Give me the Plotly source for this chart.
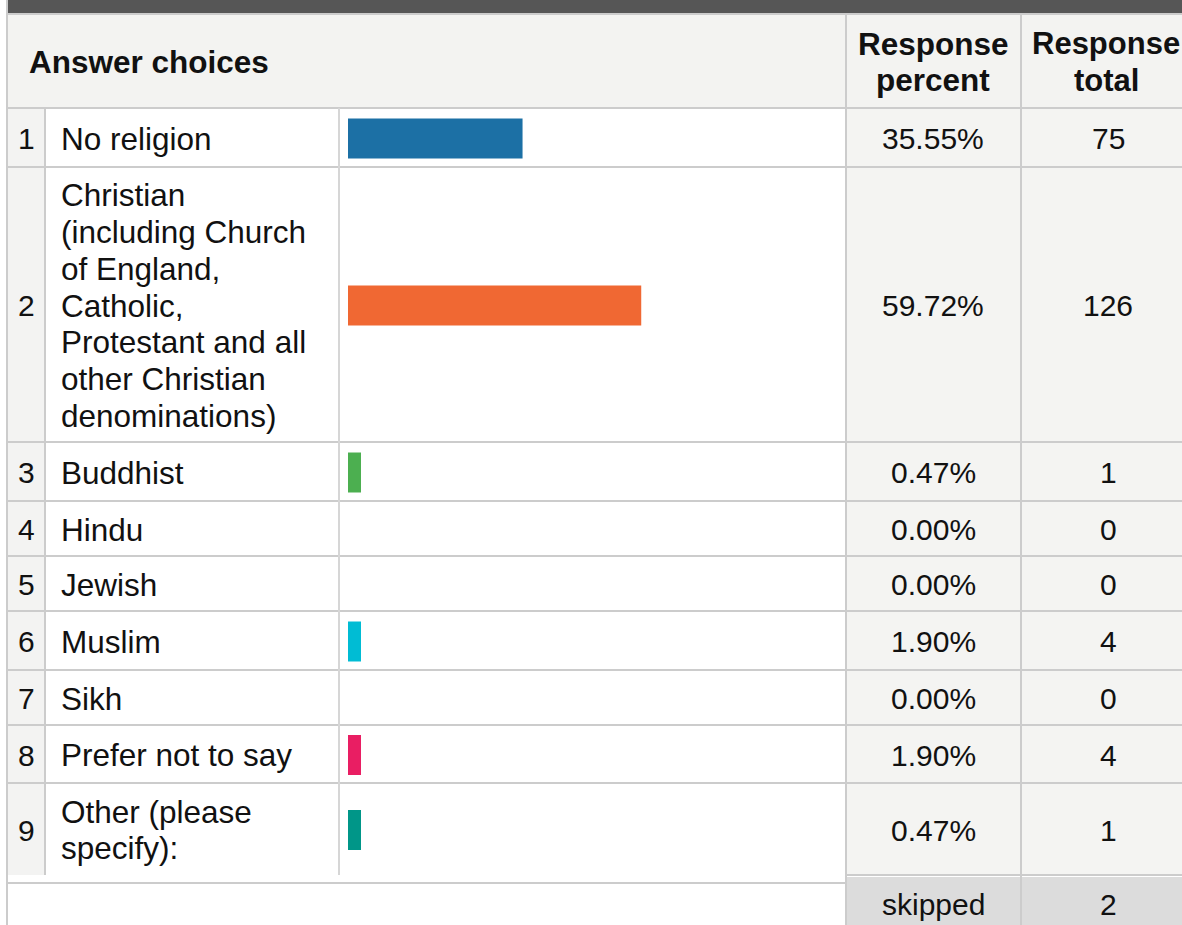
import plotly.graph_objects as go

# ---------------- data ----------------
row_numbers = [1, 2, 3, 4, 5, 6, 7, 8, 9]
answer_labels = [
    "No religion",
    "Christian<br>(including Church<br>of England,<br>Catholic,<br>Protestant and all<br>other Christian<br>denominations)",
    "Buddhist",
    "Hindu",
    "Jewish",
    "Muslim",
    "Sikh",
    "Prefer not to say",
    "Other (please<br>specify):",
]
response_percent = [35.55, 59.72, 0.47, 0.00, 0.00, 1.90, 0.00, 1.90, 0.47]
response_total = [75, 126, 1, 0, 0, 4, 0, 4, 1]
skipped_total = 2
header_labels = ["Answer choices", "Response<br>percent", "Response<br>total"]
bar_colors = ["#1c70a5", "#f06833", "#4caf50", "#ff9800", "#9c27b0",
              "#00bcd4", "#795548", "#e91e63", "#009688"]

# ---------------- layout constants (pixels) ----------------
W, H = 1182, 925
FONT = "Liberation Sans, Arial, sans-serif"
row_edges = [108, 167, 442, 501, 556, 611, 670, 725, 783, 875]
GRID = "#cccccc"
HEADER_BG = "#f3f3f1"
NUM_BG = "#f3f3f2"
VAL_BG = "#f4f4f2"
SKIP_BG = "#dcdcdc"
BAR_X0, PX_PER_PCT = 348, 4.91
MIN_BAR_PX = 13
LINE_GAP = 36.8
TXT = "#111111"

shapes = []


def rect(x0, y0, x1, y1, color):
    shapes.append(dict(type="rect", xref="x", yref="y", x0=x0, x1=x1, y0=y0, y1=y1,
                       fillcolor=color, line=dict(width=0), layer="below"))


annotations = []


def text(x, y, s, size=30, anchor="center", bold=False):
    lines = s.split("<br>")
    n = len(lines)
    for i, ln in enumerate(lines):
        yy = y + (i - (n - 1) / 2) * LINE_GAP
        annotations.append(dict(x=x, y=yy, xref="x", yref="y", text=ln, showarrow=False,
                                xanchor=anchor, yanchor="middle",
                                font=dict(family=FONT, size=size, color=TXT,
                                          weight="bold" if bold else "normal")))


# backgrounds
rect(8, 0, W, 13, "#565656")
rect(8, 13, W, 15, GRID)
rect(8, 15, W, row_edges[0], HEADER_BG)
rect(8, row_edges[0], 45, row_edges[-1], NUM_BG)
rect(845, row_edges[0], W, row_edges[-1], VAL_BG)
rect(847, row_edges[-1] + 2, W, H, SKIP_BG)

# horizontal grid lines
for e in row_edges[:-1]:
    rect(8, e - 1, W, e + 1, GRID)
rect(845, row_edges[-1] - 1, W, row_edges[-1] + 1, GRID)
rect(8, 882, 845, 884, GRID)

# vertical grid lines
rect(6, 0, 8, H, GRID)
rect(44, row_edges[0], 46, row_edges[-1], GRID)
rect(338, row_edges[0], 340, row_edges[-1], "#d6d6d6")
rect(845, 15, 847, H, GRID)
rect(1020, 15, 1022, H, GRID)

# header text
HC = (15 + row_edges[0]) / 2 + 0.5
text(27, HC, header_labels[0], size=31.5, anchor="left", bold=True)
text(933, HC, header_labels[1], size=31.5, bold=True)
text(1106, HC, header_labels[2], size=31, bold=True)

# body text
centers = [(row_edges[i] + row_edges[i + 1]) / 2 + 1 for i in range(len(row_numbers))]
for i, c in enumerate(centers):
    text(26, c, str(row_numbers[i]), size=30)
    text(59, c, answer_labels[i], size=31.5, anchor="left")
    text(933, c, f"{response_percent[i]:.2f}%", size=30)
    text(1108, c, str(response_total[i]), size=30)

FC = (row_edges[-1] + 2 + H) / 2 + 3
text(933, FC, "skipped", size=30)
text(1108, FC, str(skipped_total), size=30)

# bars
min_pct = MIN_BAR_PX / PX_PER_PCT
bar_len = [max(p, min_pct) if p > 0 else 0 for p in response_percent]
fig = go.Figure()
fig.add_trace(go.Bar(
    x=bar_len, y=centers, orientation="h", width=40,
    marker=dict(color=bar_colors, line=dict(width=0)),
    xaxis="x2", yaxis="y", hoverinfo="skip", showlegend=False,
))

x2_end = BAR_X0 + 100 * PX_PER_PCT
fig.update_layout(
    width=W, height=H,
    margin=dict(l=0, r=0, t=0, b=0),
    paper_bgcolor="white", plot_bgcolor="rgba(0,0,0,0)",
    xaxis=dict(range=[0, W], visible=False, domain=[0, 1], fixedrange=True),
    yaxis=dict(range=[H, 0], visible=False, domain=[0, 1], fixedrange=True),
    xaxis2=dict(range=[0, 100], visible=False, domain=[BAR_X0 / W, x2_end / W],
                anchor="y", fixedrange=True),
    shapes=shapes,
    annotations=annotations,
    showlegend=False,
)
fig.write_html(
    "out.html",
    config={"displayModeBar": False},
    post_script="document.body.style.margin='0px';document.body.style.overflow='hidden';",
)
